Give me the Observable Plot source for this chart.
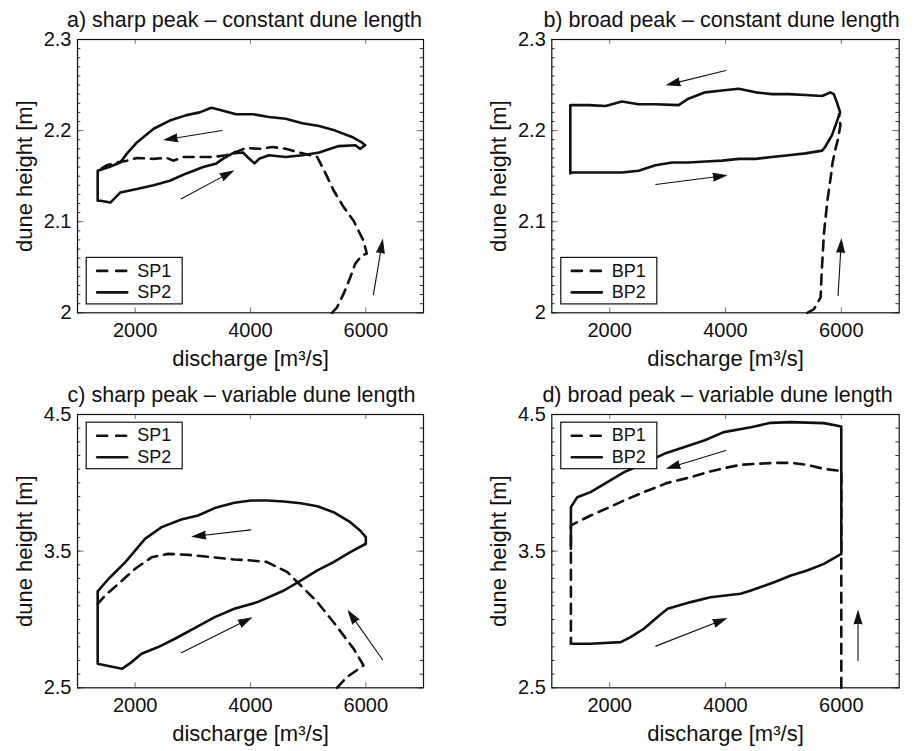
<!DOCTYPE html>
<html><head><meta charset="utf-8">
<script src="https://cdn.jsdelivr.net/npm/d3@7"></script>
<script src="https://cdn.jsdelivr.net/npm/@observablehq/plot@0.6"></script>
<style>
body{margin:0;background:#fff;}
#wrap{position:relative;width:914px;height:751px;background:#fff;}
#wrap svg{position:absolute;}
</style></head><body><div id="wrap"></div>
<script>
// ---------- tick values / labels ----------
const xTicks = [2000, 4000, 6000];
const xTickLabels = ["2000", "4000", "6000"];
const yTicksTop = [2, 2.1, 2.2, 2.3];
const yTickLabelsTop = ["2", "2.1", "2.2", "2.3"];
const yTicksBottom = [2.5, 3.5, 4.5];
const yTickLabelsBottom = ["2.5", "3.5", "4.5"];
const minorTop = d3.range(0, 31).map(i => +(2 + i * 0.01).toFixed(2));
const minorBottom = d3.range(0, 21).map(i => +(2.5 + i * 0.1).toFixed(1));

const titles = [
  "a) sharp peak \u2013 constant dune length",
  "b) broad peak \u2013 constant dune length",
  "c) sharp peak \u2013 variable dune length",
  "d) broad peak \u2013 variable dune length"
];
const xLabel = "discharge [m\u00B3/s]";
const yLabel = "dune height [m]";

// ---------- panel a: sharp peak, constant dune length ----------
const aSP2q = [1350, 1400, 1570, 1740, 2030, 2320, 2600, 2890, 3180, 3410, 3520, 3690, 3870, 3980, 4070, 4150, 4320, 4610, 4900, 5190, 5530, 5820, 5900, 5990, 5930, 5760, 5470, 5190, 4900, 4610, 4320, 4040, 3750, 3460, 3320, 3120, 2890, 2600, 2320, 2030, 1860, 1740, 1550, 1350, 1350];
const aSP2h = [2.123, 2.123, 2.121, 2.132, 2.136, 2.140, 2.145, 2.153, 2.160, 2.164, 2.169, 2.175, 2.176, 2.169, 2.164, 2.169, 2.173, 2.171, 2.173, 2.176, 2.183, 2.184, 2.180, 2.184, 2.187, 2.193, 2.200, 2.205, 2.208, 2.213, 2.215, 2.218, 2.218, 2.223, 2.225, 2.220, 2.217, 2.211, 2.202, 2.187, 2.175, 2.165, 2.160, 2.156, 2.123];
const aSP1q = [5415, 5500, 5616, 5731, 5817, 5932, 6017, 5960, 5788, 5616, 5444, 5301, 5157, 4841, 4611, 4382, 4152, 3923, 3808, 3578, 3349, 3062, 2832, 2660, 2545, 2316, 2029, 1857, 1685, 1512, 1350];
const aSP1h = [2.0, 2.006, 2.021, 2.039, 2.054, 2.063, 2.065, 2.079, 2.101, 2.116, 2.134, 2.153, 2.171, 2.176, 2.180, 2.182, 2.180, 2.181, 2.178, 2.173, 2.171, 2.171, 2.171, 2.167, 2.170, 2.169, 2.170, 2.167, 2.165, 2.162, 2.156];

// ---------- panel b: broad peak, constant dune length ----------
const bBP2q = [1320, 1640, 1930, 2210, 2500, 2790, 3080, 3360, 3650, 3940, 4230, 4520, 4800, 5090, 5380, 5670, 5720, 5840, 5980, 5930, 5870, 5810, 5670, 5380, 5090, 4800, 4520, 4230, 3940, 3650, 3360, 3190, 2790, 2500, 2210, 1930, 1640, 1320, 1320];
const bBP2h = [2.154, 2.154, 2.154, 2.154, 2.156, 2.162, 2.165, 2.165, 2.166, 2.167, 2.169, 2.169, 2.171, 2.173, 2.175, 2.178, 2.182, 2.195, 2.220, 2.230, 2.240, 2.242, 2.238, 2.239, 2.240, 2.240, 2.242, 2.246, 2.244, 2.242, 2.235, 2.228, 2.229, 2.229, 2.232, 2.227, 2.228, 2.228, 2.153];
const bBP1q = [5413, 5528, 5643, 5660, 5700, 5760, 5820, 5850, 5900, 5940, 5985, 5960];
const bBP1h = [2.0, 2.004, 2.017, 2.043, 2.087, 2.123, 2.150, 2.165, 2.180, 2.190, 2.206, 2.218];

// ---------- panel c: sharp peak, variable dune length ----------
const cSP2q = [1350, 1350, 1770, 1940, 2110, 2400, 2690, 3030, 3380, 3720, 4120, 4580, 4870, 5160, 5440, 5730, 6000, 6000, 5900, 5730, 5440, 5160, 4870, 4580, 4290, 4010, 3720, 3380, 3090, 2800, 2460, 2170, 1830, 1540, 1350];
const cSP2h = [3.205, 2.676, 2.639, 2.688, 2.749, 2.798, 2.859, 2.937, 3.017, 3.078, 3.127, 3.212, 3.285, 3.359, 3.420, 3.493, 3.554, 3.602, 3.651, 3.712, 3.785, 3.829, 3.851, 3.863, 3.871, 3.871, 3.854, 3.815, 3.761, 3.732, 3.676, 3.590, 3.420, 3.298, 3.205];
const cSP1q = [5500, 5670, 5960, 5790, 5440, 5160, 4870, 4640, 4290, 4010, 3720, 3320, 2920, 2570, 2290, 2000, 1710, 1480, 1350];
const cSP1h = [2.5, 2.578, 2.663, 2.785, 2.980, 3.127, 3.249, 3.346, 3.420, 3.432, 3.439, 3.456, 3.473, 3.480, 3.456, 3.371, 3.261, 3.176, 3.115];

// ---------- panel d: broad peak, variable dune length ----------
const dBP2q = [1330, 1670, 2190, 2360, 2590, 2820, 3000, 3400, 3740, 4260, 4440, 4840, 5130, 5410, 5700, 6000, 6000, 5700, 5130, 4780, 4440, 3970, 3630, 3280, 2940, 2540, 2250, 1960, 1670, 1440, 1330, 1330];
const dBP2h = [2.822, 2.822, 2.834, 2.871, 2.932, 3.017, 3.078, 3.127, 3.163, 3.188, 3.212, 3.273, 3.322, 3.359, 3.407, 3.480, 4.412, 4.437, 4.444, 4.439, 4.407, 4.371, 4.310, 4.261, 4.212, 4.132, 4.078, 4.005, 3.932, 3.895, 3.822, 3.517];
const dBP1q = [6000, 6000, 5930, 5700, 5410, 5130, 4840, 4550, 4260, 3970, 3690, 3400, 3000, 2590, 2250, 1960, 1670, 1330, 1330];
const dBP1h = [2.5, 4.090, 4.090, 4.102, 4.132, 4.146, 4.146, 4.139, 4.132, 4.107, 4.078, 4.041, 4.000, 3.932, 3.871, 3.815, 3.761, 3.688, 2.822];

// ---------- direction arrows (tail -> head) ----------
const aArrQ1 = [3508, 2802, 6131], aArrH1 = [2.2001, 2.1251, 2.020];
const aArrQ2 = [2515, 3692, 6290], aArrH2 = [2.1899, 2.1555, 2.0794];
const bArrQ1 = [4004, 2796, 5944], bArrH1 = [2.266, 2.1408, 2.019];
const bArrQ2 = [2997, 4004, 6001], bArrH2 = [2.2502, 2.1507, 2.080];
const cArrQ1 = [4007, 2802, 6291], cArrH1 = [3.656, 2.756, 2.705];
const cArrQ2 = [3003, 4007, 5700], cArrH2 = [3.607, 3.010, 3.059];
const dArrQ1 = [4004, 2796, 6289], dArrH1 = [4.237, 2.805, 2.700];
const dArrQ2 = [2997, 4004, 6289], dArrH2 = [4.107, 3.005, 3.059];

// ---------- helpers ----------
const pts = (q, h) => q.map((v, i) => ({q: v, h: h[i]}));
const arr = (q1, h1, q2, h2) => q1.map((v, i) => ({q1: v, h1: h1[i], q2: q2[i], h2: h2[i]}));
const seg = {draw(ctx, l) { ctx.moveTo(0, 0); ctx.lineTo(0, -l); }};
const FONT = "'Liberation Sans', Arial, Helvetica, sans-serif";

function panel(o) {
  const fw = o.width - o.ml - o.mr, fh = o.height - o.mt - o.mb;
  const yT = o.yTicks.map((v, i) => ({v, label: o.yLabels[i]}));
  const xT = xTicks.map((v, i) => ({v, label: xTickLabels[i]}));
  const dash = "10,7";
  const marks = [
    // minor and major ticks, inward, on all four sides
    Plot.ruleY(o.minor, {y: d => d, insetRight: fw - 3.3, stroke: "#333", strokeWidth: 1}),
    Plot.ruleY(o.minor, {y: d => d, insetLeft: fw - 3.3, stroke: "#333", strokeWidth: 1}),
    Plot.ruleY(o.yTicks, {y: d => d, insetRight: fw - 6.5, stroke: "#777", strokeWidth: 1}),
    Plot.ruleY(o.yTicks, {y: d => d, insetLeft: fw - 6.5, stroke: "#777", strokeWidth: 1}),
    Plot.ruleX(xTicks, {x: d => d, insetTop: fh - 5, stroke: "#777", strokeWidth: 1}),
    Plot.ruleX(xTicks, {x: d => d, insetBottom: fh - 5, stroke: "#777", strokeWidth: 1}),
    // data
    Plot.line(pts(o.dq, o.dh), {x: "q", y: "h", stroke: "#111", strokeWidth: 2.6, strokeDasharray: dash, strokeLinejoin: "round"}),
    Plot.line(pts(o.sq, o.sh), {x: "q", y: "h", stroke: "#111", strokeWidth: 2.6, strokeLinejoin: "round"}),
    Plot.arrow(o.arrows, {x1: "q1", y1: "h1", x2: "q2", y2: "h2", stroke: "#111", fill: "#111", strokeWidth: 1.1, headLength: 18, headAngle: 34, strokeLinejoin: "miter", strokeMiterlimit: 4}),
    // legend
    Plot.frame({insetLeft: o.legLeft, insetTop: o.legTop, insetRight: fw - o.legLeft - 96, insetBottom: fh - o.legTop - 46.5, fill: "white", stroke: "#111", strokeWidth: 1.2}),
    Plot.vector([0], {frameAnchor: "top-left", dx: o.legLeft + 11, dy: o.legTop + 13.5, rotate: 90, length: 30, anchor: "start", shape: seg, stroke: "#111", strokeWidth: 2.6, strokeDasharray: "10,9"}),
    Plot.vector([0], {frameAnchor: "top-left", dx: o.legLeft + 11, dy: o.legTop + 35, rotate: 90, length: 30, anchor: "start", shape: seg, stroke: "#111", strokeWidth: 2.6}),
    Plot.text([o.names[0]], {frameAnchor: "top-left", dx: o.legLeft + 51, dy: o.legTop + 13.5, text: d => d, textAnchor: "start", lineAnchor: "middle", fontSize: 18, fill: "#111"}),
    Plot.text([o.names[1]], {frameAnchor: "top-left", dx: o.legLeft + 51, dy: o.legTop + 35, text: d => d, textAnchor: "start", lineAnchor: "middle", fontSize: 18, fill: "#111"}),
    // axes box
    Plot.frame({stroke: "#111", strokeWidth: 1.2}),
    // tick labels
    Plot.text(yT, {y: "v", text: "label", frameAnchor: "left", dx: -6, textAnchor: "end", lineAnchor: "middle", fontSize: 20, fill: "#111"}),
    Plot.text(xT, {x: "v", text: "label", frameAnchor: "bottom", dy: 24.5, textAnchor: "middle", lineAnchor: "bottom", fontSize: 20, fill: "#111"}),
    // axis labels and title
    Plot.text([xLabel], {text: d => d, frameAnchor: "bottom", dy: 53, textAnchor: "middle", lineAnchor: "bottom", fontSize: 22, fill: "#111"}),
    Plot.text([yLabel], {text: d => d, frameAnchor: "left", dx: -53, rotate: -90, textAnchor: "middle", lineAnchor: "middle", fontSize: 22, fill: "#111"}),
    Plot.text([o.title], {text: d => d, frameAnchor: "top", dx: o.tdx, dy: -12.5, textAnchor: "middle", lineAnchor: "bottom", fontSize: 21.5, fill: "#111"})
  ];
  const svg = Plot.plot({
    width: o.width, height: o.height,
    marginLeft: o.ml, marginRight: o.mr, marginTop: o.mt, marginBottom: o.mb,
    x: {domain: [1000, 7000], axis: null},
    y: {domain: o.yDomain, axis: null},
    style: {fontFamily: FONT, background: "transparent", overflow: "visible", color: "#111"},
    marks
  });
  svg.style.left = o.left + "px";
  svg.style.top = o.top + "px";
  document.getElementById("wrap").appendChild(svg);
}

panel({left: 0, top: 0, width: 457, height: 375, ml: 77, mr: 34, mt: 39, mb: 62.7, tdx: -6,
  title: titles[0], yDomain: [2, 2.3], yTicks: yTicksTop, yLabels: yTickLabelsTop, minor: minorTop,
  sq: aSP2q, sh: aSP2h, dq: aSP1q, dh: aSP1h, arrows: arr(aArrQ1, aArrH1, aArrQ2, aArrH2),
  names: ["SP1", "SP2"], legLeft: 8.7, legTop: 217.9});
panel({left: 457, top: 0, width: 457, height: 375, ml: 94.3, mr: 15.3, mt: 39, mb: 62.7, tdx: -4,
  title: titles[1], yDomain: [2, 2.3], yTicks: yTicksTop, yLabels: yTickLabelsTop, minor: minorTop,
  sq: bBP2q, sh: bBP2h, dq: bBP1q, dh: bBP1h, arrows: arr(bArrQ1, bArrH1, bArrQ2, bArrH2),
  names: ["BP1", "BP2"], legLeft: 9, legTop: 217.9});
panel({left: 0, top: 375, width: 457, height: 376, ml: 77, mr: 34, mt: 39, mb: 63.7, tdx: -9,
  title: titles[2], yDomain: [2.5, 4.5], yTicks: yTicksBottom, yLabels: yTickLabelsBottom, minor: minorBottom,
  sq: cSP2q, sh: cSP2h, dq: cSP1q, dh: cSP1h, arrows: arr(cArrQ1, cArrH1, cArrQ2, cArrH2),
  names: ["SP1", "SP2"], legLeft: 8.7, legTop: 7.7});
panel({left: 457, top: 375, width: 457, height: 376, ml: 94.3, mr: 15.3, mt: 39, mb: 63.7, tdx: -8,
  title: titles[3], yDomain: [2.5, 4.5], yTicks: yTicksBottom, yLabels: yTickLabelsBottom, minor: minorBottom,
  sq: dBP2q, sh: dBP2h, dq: dBP1q, dh: dBP1h, arrows: arr(dArrQ1, dArrH1, dArrQ2, dArrH2),
  names: ["BP1", "BP2"], legLeft: 9, legTop: 7.7});
</script>
</body></html>
